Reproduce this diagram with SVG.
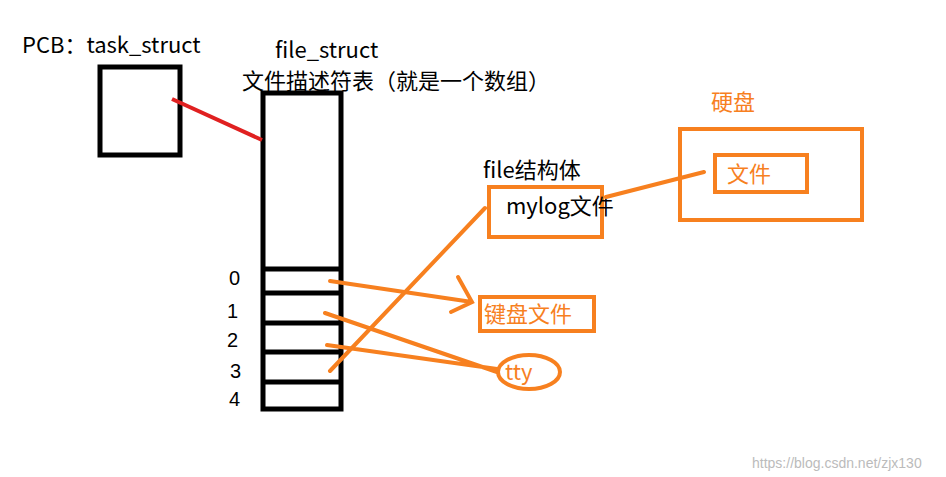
<svg xmlns="http://www.w3.org/2000/svg" width="946" height="477" viewBox="0 0 946 477">
<style>
.k{fill:none;stroke:#000;stroke-width:5}
.o{fill:none;stroke:#f7801f;stroke-width:4;stroke-linecap:round}
.t{font-family:"Microsoft YaHei","Noto Sans CJK SC",sans-serif;font-size:22px;fill:#000}
.n{font-family:"Liberation Sans",sans-serif;font-size:20px;fill:#000}
.ot{font-family:"Microsoft YaHei","Noto Sans CJK SC",sans-serif;font-size:22px;fill:#f7801f}
</style>
<rect width="946" height="477" fill="#fff"/>
<g id="pcb"><rect class="k" x="100" y="67" width="80" height="88"/><text class="t" x="22" y="53" font-size="23">PCB：task_struct</text></g>
<g id="table">
<rect class="k" x="263" y="93" width="78" height="316"/>
<path class="k" d="M263 269H341M263 293H341M263 323H341M263 352H341M263 382H341"/>
<text class="t" x="275" y="58">file_struct</text>
<text class="t" x="242" y="89">文件描述符表（就是一个数组）</text>
<text class="n" x="229" y="285">0</text><text class="n" x="227" y="318">1</text><text class="n" x="227" y="347">2</text><text class="n" x="230" y="378">3</text><text class="n" x="229" y="406">4</text>
</g>
<g id="file"><rect class="o" x="489" y="187" width="113" height="50"/><text class="t" x="483" y="178">file结构体</text><text class="t" x="506" y="214">mylog文件</text></g>
<g id="disk"><rect class="o" x="680" y="129" width="182" height="91"/><rect class="o" x="715" y="155" width="92" height="37"/><text class="ot" x="711" y="110">硬盘</text><text class="ot" x="727" y="182">文件</text></g>
<g id="kbd"><rect class="o" x="480" y="297" width="114" height="34"/><text class="ot" x="484" y="322">键盘文件</text></g>
<g id="tty"><ellipse class="o" cx="529" cy="372" rx="31" ry="17"/><text class="ot" x="505" y="380">tty</text></g>
<g id="connectors">
<line x1="172" y1="99" x2="262" y2="140" stroke="#e02020" stroke-width="4"/>
<path class="o" d="M330 281L472 302M458 277L472 302L451 312"/>
<path class="o" d="M325 313L497 372M327 345L497 369M330 371L485 208M606 197L704 172"/>
</g>
<text x="752" y="468" font-family="Liberation Sans,sans-serif" font-size="14" fill="#bbb">https://blog.csdn.net/zjx130</text>
</svg>
